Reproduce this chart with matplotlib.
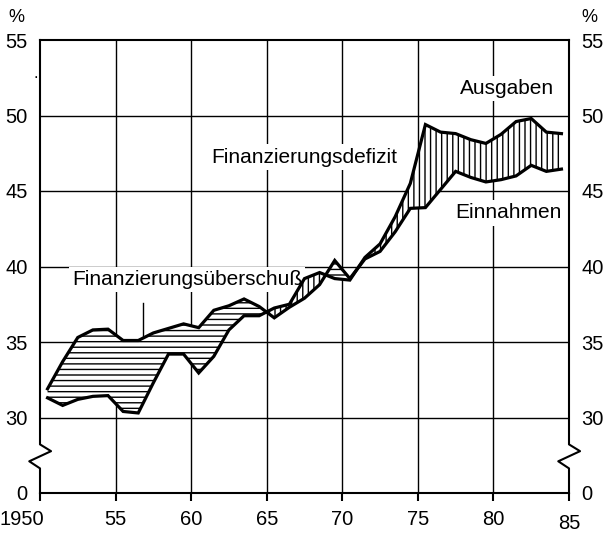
import matplotlib
matplotlib.use('Agg')
import matplotlib.pyplot as plt
import matplotlib.transforms as mtransforms
import numpy as np

plt.rcParams['font.family'] = ['Liberation Sans', 'DejaVu Sans']
plt.rcParams['hatch.linewidth'] = 1.0

# Werte je Jahr (in % des Bruttosozialprodukts)
jahre = np.arange(1950, 1985)
einnahmen = [31.9, 33.7, 35.3, 35.8, 35.85, 35.1, 35.1, 35.6, 35.9, 36.2,
             35.95, 37.1, 37.4, 37.85, 37.35, 36.6, 37.3, 37.9, 38.8, 40.4,
             39.2, 40.5, 41.0, 42.3, 43.85, 43.9, 45.1, 46.3, 45.9, 45.6,
             45.75, 46.0, 46.7, 46.3, 46.45]
ausgaben = [31.3, 30.8, 31.2, 31.4, 31.45, 30.4, 30.3, 32.3, 34.2, 34.2,
            32.95, 34.05, 35.8, 36.74, 36.74, 37.25, 37.5, 39.2, 39.6, 39.2,
            39.1, 40.6, 41.5, 43.3, 45.5, 49.4, 48.9, 48.8, 48.4, 48.15,
            48.75, 49.6, 49.8, 48.9, 48.8]

x_ticks = [1950, 1955, 1960, 1965, 1970, 1975, 1980, 1985]
x_labels = ['1950', '55', '60', '65', '70', '75', '80', '85']
# 25 steht nach dem Achsenbruch fuer den Nullpunkt
y_ticks = [25, 30, 35, 40, 45, 50, 55]
y_labels = ['0', '30', '35', '40', '45', '50', '55']

fig = plt.figure(figsize=(6.06, 5.36), dpi=100)
ax = fig.add_axes([40 / 606, 1 - 493 / 536, 529 / 606, 453 / 536])
ax.set_xlim(1950, 1985)
ax.set_ylim(25, 55)

# Gitter
for y in y_ticks[1:-1]:
    ax.axhline(y, color='black', lw=1.0, zorder=1)
for x in x_ticks[1:-1]:
    ax.axvline(x, color='black', lw=1.0, zorder=1)

# Flaechen: Ueberschuss waagrecht, Defizit senkrecht schraffiert
xs = jahre + 0.5
e = np.array(einnahmen)
a = np.array(ausgaben)
ax.fill_between(xs, a, e, where=e >= a, interpolate=True,
                facecolor='white', edgecolor='black', hatch='---', lw=0, zorder=3)
ax.fill_between(xs, e, a, where=a >= e, interpolate=True,
                facecolor='white', edgecolor='black', hatch='|||', lw=0, zorder=3)
ax.plot(xs, einnahmen, color='black', lw=2.3, solid_joinstyle='miter', zorder=4)
ax.plot(xs, ausgaben, color='black', lw=2.3, solid_joinstyle='miter', zorder=4)

# Beschriftungen
box = dict(boxstyle='square,pad=0.15', fc='white', ec='none')
ax.text(1959.72, 39.12, 'Finanzierungsüberschuß', fontsize=15, ha='center',
        va='center', bbox=box, zorder=2)
ax.plot([1956.8, 1956.8], [37.6, 34.6], color='black', lw=1.0, zorder=2)
ax.text(1967.5, 47.25, 'Finanzierungsdefizit', fontsize=15, ha='center',
        va='center', bbox=box, zorder=2)
ax.text(1980.9, 51.8, 'Ausgaben', fontsize=15, ha='center', va='center',
        bbox=box, zorder=2)
ax.text(1981.0, 43.55, 'Einnahmen', fontsize=15, ha='center', va='center',
        bbox=box, zorder=2)

# Achsen mit Bruch
for s in ['left', 'right']:
    ax.spines[s].set_visible(False)
for s in ['top', 'bottom']:
    ax.spines[s].set_linewidth(1.5)
for x0 in [1950, 1985]:
    ax.plot([x0, x0, x0 + 0.73, x0 - 0.71, x0, x0],
            [55, 28.22, 27.77, 27.1, 26.63, 25],
            color='black', lw=1.5, clip_on=False, zorder=5)

ax.set_xticks(x_ticks)
ax.set_xticklabels(x_labels, fontsize=14.5)
ax.set_yticks(y_ticks)
ax.set_yticklabels(y_labels, fontsize=14.5)
ax.tick_params(axis='x', direction='out', length=6, width=1.5, pad=6)
ax.tick_params(axis='y', left=False, right=False, labelleft=True,
               labelright=True, length=0, pad=9)

labels = ax.get_xticklabels()
labels[0].set_transform(labels[0].get_transform() +
                        mtransforms.ScaledTranslation(-18 / 100, 0, fig.dpi_scale_trans))
labels[-1].set_transform(labels[-1].get_transform() +
                         mtransforms.ScaledTranslation(0, -4 / 100, fig.dpi_scale_trans))

fig.text(16 / 606, 1 - 18 / 536, '%', fontsize=13, ha='center', va='center')
fig.text(589 / 606, 1 - 18 / 536, '%', fontsize=13, ha='center', va='center')
fig.text(36 / 606, 1 - 73 / 536, '.', fontsize=12, ha='center', va='center')

fig.savefig('out.png', dpi=100)
